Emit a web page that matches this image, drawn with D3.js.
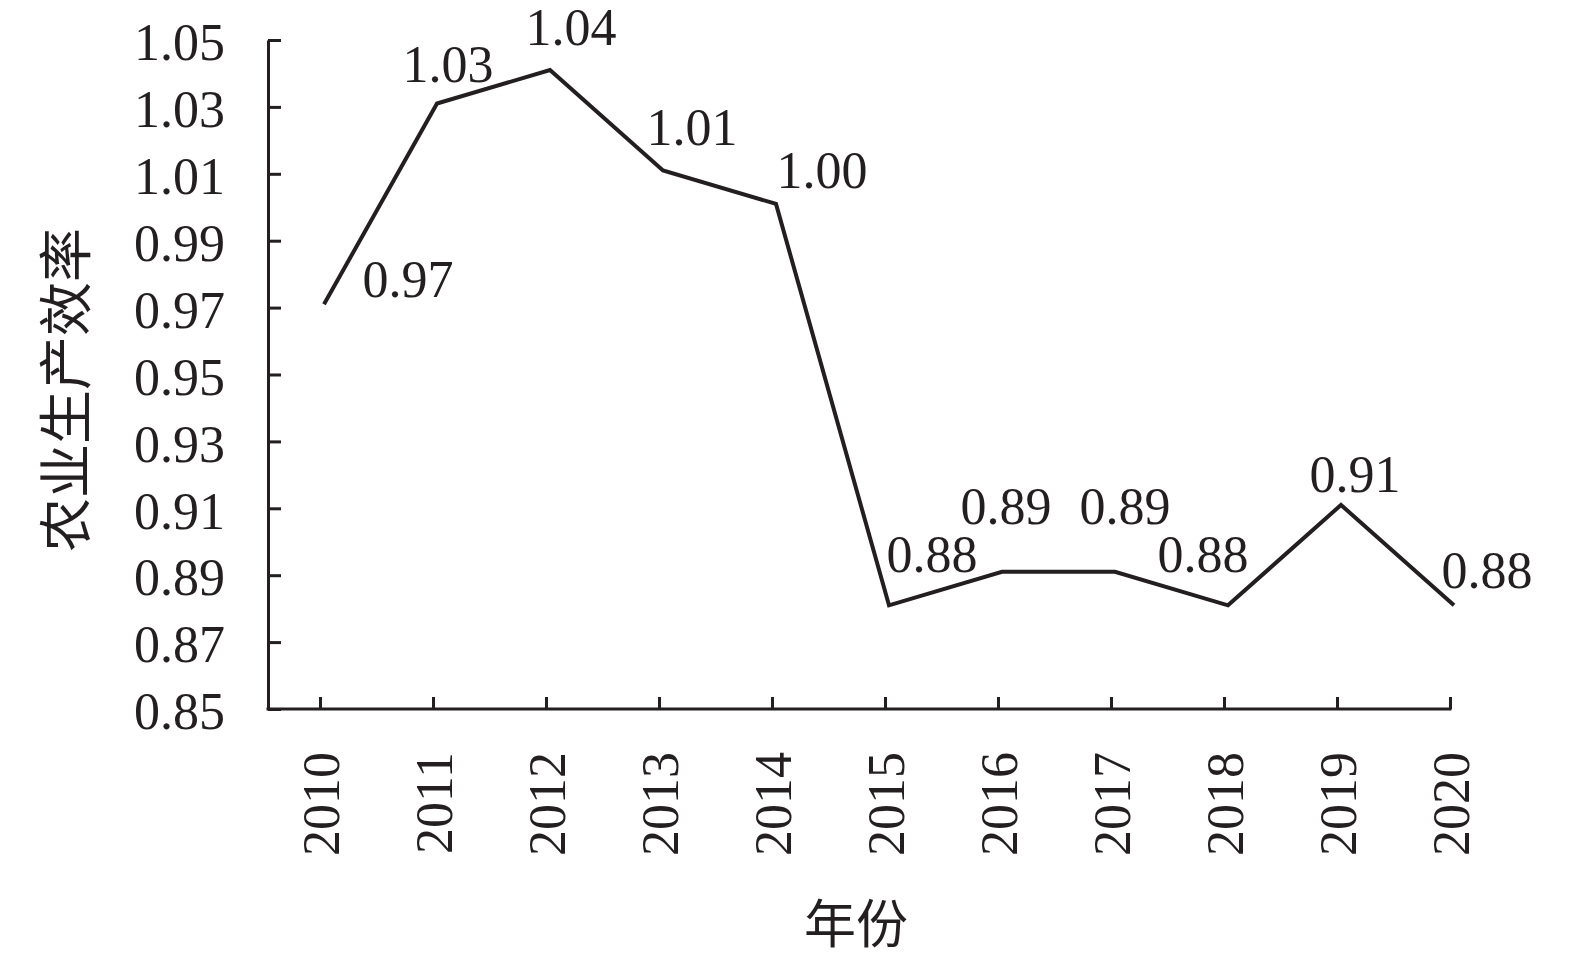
<!DOCTYPE html>
<html>
<head>
<meta charset="utf-8">
<script src="https://cdn.jsdelivr.net/npm/d3@7"></script>
<style>
  body { margin: 0; background: #fff; }
  svg { display: block; }
  text { fill: #231f20; }
</style>
</head>
<body>
<script>
// data
const years = ["2010", "2011", "2012", "2013", "2014", "2015", "2016", "2017", "2018", "2019", "2020"];
const efficiency = [0.971, 1.031, 1.041, 1.011, 1.001, 0.881, 0.891, 0.891, 0.881, 0.911, 0.881];
const yTicks = [0.85, 0.87, 0.89, 0.91, 0.93, 0.95, 0.97, 0.99, 1.01, 1.03, 1.05];

// hand-placed label nudges (px from the point: centre x, baseline y)
const labelNudge = [[84, -7], [11, -22], [21, -25], [29, -25], [46, -16], [43, -33],
                    [4, -48], [10, -48], [-25, -33], [14, -13], [33, -17]];

const width = 1575, height = 960;
const plotLeft = 268, plotTop = 40, plotBottom = 709;
const ink = "#231f20";
const serif = "'Liberation Serif', 'Times New Roman', serif";
const cjk = "'Noto Sans CJK SC', sans-serif";

const svg = d3.select("body").append("svg")
  .attr("width", width)
  .attr("height", height);

svg.append("rect").attr("width", width).attr("height", height).attr("fill", "#fff");

const x = d3.scalePoint().domain(years).range([320, 1450]);
const y = d3.scaleLinear().domain([0.85, 1.05]).range([plotBottom, plotTop]);
const lineShift = 4; // the series sits a little right of its ticks in the original

// y axis
const gY = svg.append("g")
  .attr("transform", "translate(" + plotLeft + ",0)")
  .call(d3.axisLeft(y).tickValues(yTicks).tickFormat(d3.format(".2f"))
    .tickSizeInner(-13).tickSizeOuter(0).tickPadding(43));
gY.select(".domain").attr("stroke", ink).attr("stroke-width", 3);
gY.selectAll(".tick line").attr("stroke", ink).attr("stroke-width", 3);
gY.selectAll(".tick text")
  .attr("font-family", serif).attr("font-size", 52)
  .attr("fill", ink).attr("dy", "0.38em");

// x axis
const gX = svg.append("g")
  .attr("transform", "translate(0," + plotBottom + ")")
  .call(d3.axisBottom(x).tickSizeInner(-12).tickSizeOuter(0));
gX.select(".domain").remove();
gX.append("line")
  .attr("x1", plotLeft - 1.5).attr("x2", x.range()[1] + 1.5)
  .attr("stroke", ink).attr("stroke-width", 3);
gX.selectAll(".tick line").attr("stroke", ink).attr("stroke-width", 3);
gX.selectAll(".tick text")
  .attr("font-family", serif).attr("font-size", 52).attr("fill", ink)
  .attr("transform", "rotate(-90)")
  .attr("text-anchor", "end")
  .attr("x", -43).attr("y", 0).attr("dy", "0.35em");

// series line
const line = d3.line()
  .x((d, i) => x(years[i]) + lineShift)
  .y(d => y(d));

svg.append("path")
  .datum(efficiency)
  .attr("d", line)
  .attr("fill", "none")
  .attr("stroke", ink)
  .attr("stroke-width", 4)
  .attr("stroke-linejoin", "miter");

// value labels
svg.append("g").selectAll("text")
  .data(efficiency)
  .join("text")
  .attr("x", (d, i) => x(years[i]) + lineShift + labelNudge[i][0])
  .attr("y", (d, i) => y(d) + labelNudge[i][1])
  .attr("text-anchor", "middle")
  .attr("font-family", serif).attr("font-size", 52).attr("fill", ink)
  .text(d => d3.format(".2f")(Math.floor(d * 100) / 100));

// axis titles
svg.append("text")
  .attr("transform", "translate(67,390) rotate(-90)")
  .attr("text-anchor", "middle").attr("dy", "0.35em")
  .attr("font-family", cjk).attr("font-size", 54).attr("fill", ink)
  .text("农业生产效率");

svg.append("text")
  .attr("x", 856).attr("y", 925)
  .attr("text-anchor", "middle").attr("dy", "0.35em")
  .attr("font-family", cjk).attr("font-size", 52).attr("fill", ink)
  .text("年份");
</script>
</body>
</html>
